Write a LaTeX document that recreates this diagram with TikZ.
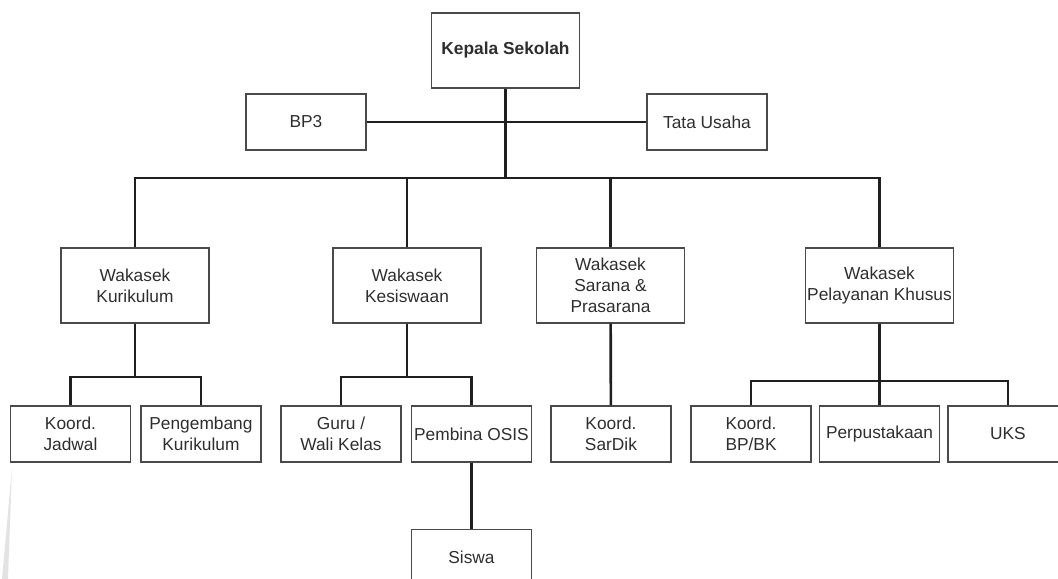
\documentclass[tikz,border=0pt]{standalone}
\usepackage{fontspec}
\setmainfont{Liberation Sans}
\usetikzlibrary{positioning}
\definecolor{boxline}{HTML}{4A4A4A}
\definecolor{txt}{HTML}{2E2E2E}
\begin{document}
\begin{tikzpicture}[x=0.75pt, y=-0.75pt, node distance=6.75pt,
    unit/.style={draw=boxline, line width=1.1pt, text=txt, align=center,
      font=\fontsize{13}{15.75}\selectfont, inner sep=1pt},
    small/.style={unit, minimum width=90pt, minimum height=42pt},
    wakil/.style={unit, minimum width=111pt, minimum height=56.25pt},
    link/.style={line width=2pt, draw=black!88}]
  \useasboundingbox (0,0) rectangle (1058,579);
  \fill[gray!22] (12,468) -- (8,579) -- (2,579) -- cycle;

  \node[wakil, font=\fontsize{13}{15.75}\selectfont\bfseries] (KS) at (505.5,50.5) {Kepala Sekolah};
  \node[small] (BP) at (306,122) {BP3};
  \node[small] (TU) at (707,122) {Tata Usaha};

  \node[wakil] (WK) at (135,285.5) {Wakasek\\Kurikulum};
  \node[wakil] (WS) at (407,285.5) {Wakasek\\Kesiswaan};
  \node[wakil] (WP) at (610.5,285.5) {Wakasek\\Sarana \&\\Prasarana};
  \node[wakil] (WL) at (879.5,285.5) {Wakasek\\Pelayanan Khusus};

  \node[small] (JD) at (70.5,434) {Koord.\\Jadwal};
  \node[small, right=of JD] (PK) {Pengembang\\Kurikulum};
  \node[small] (GW) at (341,434) {Guru /\\Wali Kelas};
  \node[small, right=of GW] (PO) {Pembina OSIS};
  \node[small, below=49.5pt of PO] (SW) {Siswa};
  \node[small] (SD) at (611,434) {Koord.\\SarDik};
  \node[small] (PP) at (879.5,434) {Perpustakaan};
  \node[small, left=5.25pt of PP] (BK) {Koord.\\BP/BK};
  \node[small, right=5.25pt of PP] (UK) {UKS};

  \coordinate (bus) at (505.5,178);
  \coordinate (kb) at (135,377);
  \coordinate (sb) at (407,377);
  \coordinate (lb) at (879.5,381);

  \draw[link] (KS) -- (bus);
  \draw[link] (BP) -- (TU);
  \draw[link] (WK.north) |- (bus) -| (WL.north);
  \draw[link] (WS.north) -- (WS.north |- bus);
  \draw[link] (WP.north) -- (WP.north |- bus);

  \draw[link] (WK) -- (kb);
  \draw[link] (JD.north) |- (kb) -| (PK.north);
  \draw[link] (WS) -- (sb);
  \draw[link] (GW.north) |- (sb) -| (PO.north);
  \draw[link] (PO) -- (SW);
  \draw[link] (WP) -- (SD);
  \draw[link] (WL) -- (PP);
  \draw[link] (BK.north) |- (lb) -| (UK.north);
\end{tikzpicture}
\end{document}
